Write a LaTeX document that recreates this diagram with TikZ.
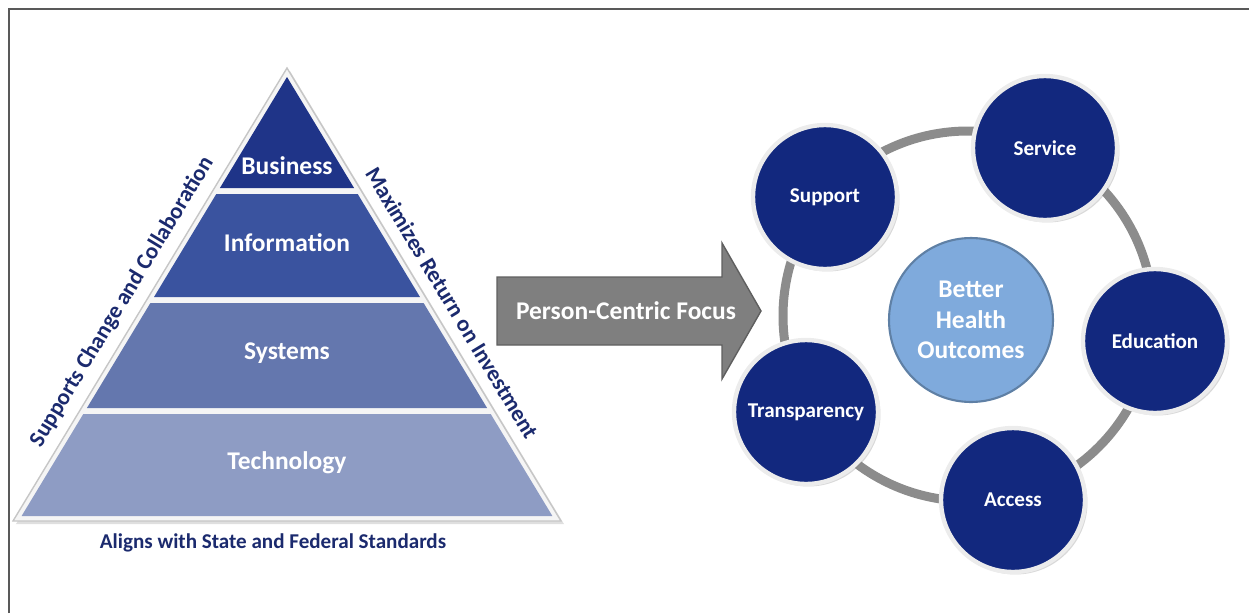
\documentclass[tikz,border=0pt]{standalone}
\usepackage{fontspec}
\setmainfont{Carlito}
\usepackage{tikz}
\usetikzlibrary{shadows}

\definecolor{navy}{HTML}{12287E}
\definecolor{darknavy}{HTML}{1B2A6E}
\definecolor{lbusiness}{HTML}{1F3488}
\definecolor{linformation}{HTML}{3A539F}
\definecolor{lsystems}{HTML}{6477AE}
\definecolor{ltechnology}{HTML}{8E9CC4}
\definecolor{paleblue}{HTML}{7FAADC}
\definecolor{arrowgray}{HTML}{7F7F7F}

\begin{document}
\begin{tikzpicture}
    [
    x=0.02cm,y=-0.02cm,
    layertext/.style={text=white,font=\bfseries\fontsize{14.5}{17}\selectfont},
    sidetext/.style={text=darknavy,font=\bfseries\fontsize{13}{15}\selectfont},
    ball/.style={circle,fill=navy,draw=gray!15,line width=2.5pt,minimum size=2.88cm,
      inner sep=0pt,text=white,font=\bfseries\fontsize{12}{14}\selectfont,
      drop shadow={opacity=0.3,shadow xshift=0.5mm,shadow yshift=-0.5mm}},
    core/.style={circle,fill=paleblue,draw=paleblue!75!black,line width=1.2pt,minimum size=3.28cm,
      inner sep=0pt,align=center,text=white,font=\bfseries\fontsize{14.5}{17.4}\selectfont},
    ]
    \useasboundingbox (0,0) rectangle (1249,613);
    \draw [gray!70!black,line width=0.8pt] (9,613) -- (9,9) -- (1249,9);

    % pyramid
    \filldraw [fill=gray!8,draw=gray!45,line width=0.8pt,
      drop shadow={opacity=0.25,shadow xshift=0.6mm,shadow yshift=-0.6mm}]
      (287,68) -- (561,521) -- (13,521) -- cycle;
    \fill [lbusiness] (287,77) -- (354.1,188) -- (219.9,188) -- cycle;
    \fill [linformation] (216.3,194) -- (357.7,194) -- (420,297) -- (154,297) -- cycle;
    \fill [lsystems] (150.4,303) -- (423.6,303) -- (487.1,408) -- (86.9,408) -- cycle;
    \fill [ltechnology] (83.3,414) -- (490.7,414) -- (552.4,516) -- (21.6,516) -- cycle;

    \node (business) at (287,166) [layertext] {Business};
    \node (information) at (287,243) [layertext] {Information};
    \node (systems) at (287,353) [layertext] {Systems};
    \node (technology) at (287,463) [layertext] {Technology};

    \node (supports) at (122,302) [sidetext,rotate=58.85,inner sep=1pt] {Supports Change and Collaboration};
    \node (maximizes) at (452,303) [sidetext,rotate=-58.85,inner sep=1pt] {Maximizes Return on Investment};
    \node (aligns) at (273,543) [text=darknavy,font=\bfseries\fontsize{12}{14}\selectfont]
      {Aligns with State and Federal Standards};

    % arrow
    \filldraw [fill=arrowgray,draw=arrowgray!75!black,line width=0.8pt]
      (497,277) -- (722,277) -- (722,243) -- (761,311) -- (722,379) -- (722,345) -- (497,345) -- cycle;
    \node (focus) at (626,311) [layertext] {Person-Centric Focus};

    % ring of circles
    \coordinate (ring) at (968,316);
    \draw [gray!90,line width=0.18cm] (ring) circle [radius=185];

    \node (support) at (825,197) [ball] {Support};
    \node (service) at (1045,148) [ball] {Service};
    \node (education) at (1155,341) [ball] {Education};
    \node (access) at (1013,500) [ball] {Access};
    \node (transparency) at (806,412) [ball] {Transparency};
    \node (outcomes) at (971,320) [core] {Better\\Health\\Outcomes};
  \end{tikzpicture}
\end{document}
